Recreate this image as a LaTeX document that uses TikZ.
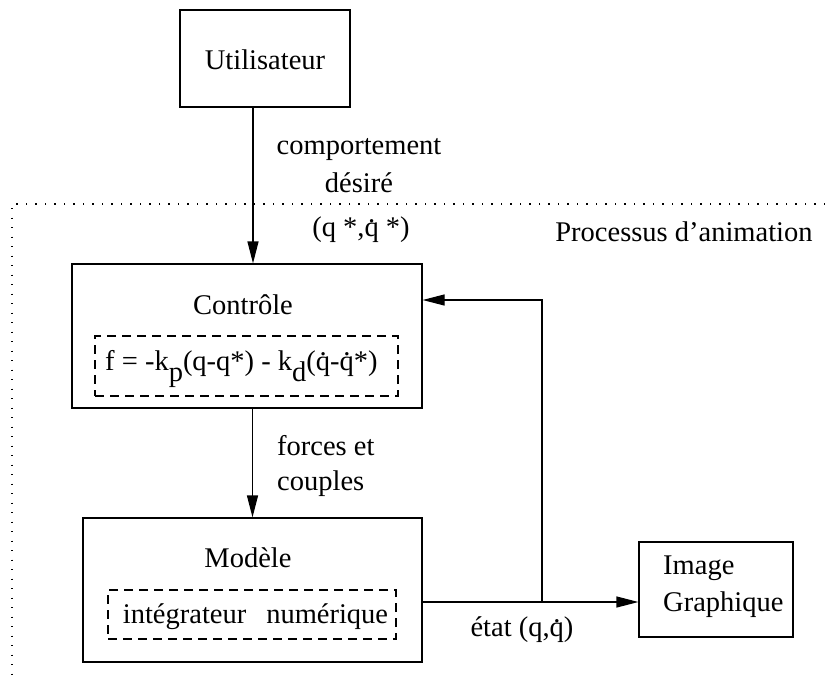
\documentclass[tikz,border=0pt]{standalone}
\usepackage{fontspec}
\setmainfont{LiberationSerif-Regular.ttf}
\newfontfamily\tnr{LiberationSerif-Regular.ttf}
\usetikzlibrary{arrows.meta}
\newcommand\qdt{\ooalign{q\cr\hidewidth\raisebox{0.5em}{.}\hidewidth\cr}}
\begin{document}
\begin{tikzpicture}[x=1pt,y=-1pt,
  box/.style={draw,line width=1.2pt,minimum width=#1,inner sep=0pt},
  dbox/.style={draw,line width=1.1pt,dash pattern=on 9pt off 6pt,inner sep=0pt},
  txt/.style={inner sep=0pt,font=\tnr\fontsize{28.5}{35}\selectfont},
  arr/.style={line width=1.2pt,-{Triangle[length=22pt,width=11pt]}},
  frame/.style={line width=1.4pt,dash pattern=on 1.2pt off 8.3pt}]
\useasboundingbox (0,0) rectangle (825,683);
% dotted frame
\coordinate (fr1) at (825,204);
\coordinate (fr2) at (12,204);
\coordinate (fr3) at (12,683);
\draw[frame] (fr1) -- (fr2) -- (fr3);
% boxes
\node[box=170pt,minimum height=97pt] (ut) at (265,58.5) {};
\node[txt] (utt) at (265,60) {Utilisateur};
\node[box=350pt,minimum height=144pt] (ctrl) at (247,336) {};
\node[txt] (ctrlt) at (243,305) {Contrôle};
\node[dbox,minimum width=303pt,minimum height=60pt] (ctrld) at (246.5,366) {};
\node[txt,anchor=base west] (form) at (105,370)
  {f = -k\raisebox{-0.42em}{p}(q-q*) - k\raisebox{-0.42em}{d}(\qdt-\qdt*)};
\node[box=339pt,minimum height=144pt] (mod) at (252.5,590) {};
\node[txt] (modt) at (248,558) {Modèle};
\node[dbox,minimum width=288pt,minimum height=49pt] (modd) at (252,614.5) {};
\node[txt] (modi) at (255.5,617) {intégrateur\hspace{0.7em}numérique};
\node[box=154pt,minimum height=95pt] (img) at (716,589.5) {};
\node[txt,anchor=west,align=left,font=\tnr\fontsize{28.5}{37}\selectfont] (imgt) at (663,586.5) {Image\\Graphique};
% labels
\node[txt,align=center,font=\tnr\fontsize{28.5}{38}\selectfont] (comp) at (359,166) {comportement\\désiré};
\node[txt] (qs) at (361,230) {(q *,\qdt\ *)};
\node[txt,anchor=west,align=left] (forc) at (277,465.5) {forces et\\couples};
\node[txt] (etat) at (522,630) {état (q,\qdt)};
\node[txt] (proc) at (684,232) {Processus d’animation};
% connectors
\coordinate (a1) at (253,0);
\coordinate (br) at (542,602);
\coordinate (fb) at (542,300);
\draw[arr] (ut.south -| a1) -- (ctrl.north -| a1);
\draw[arr] (ctrl.south -| mod.north) -- (mod.north);
\draw[arr] (mod.east |- br) -- (img.west |- br);
\draw[arr] (br) -- (fb) -- (ctrl.east |- fb);
\end{tikzpicture}
\end{document}
